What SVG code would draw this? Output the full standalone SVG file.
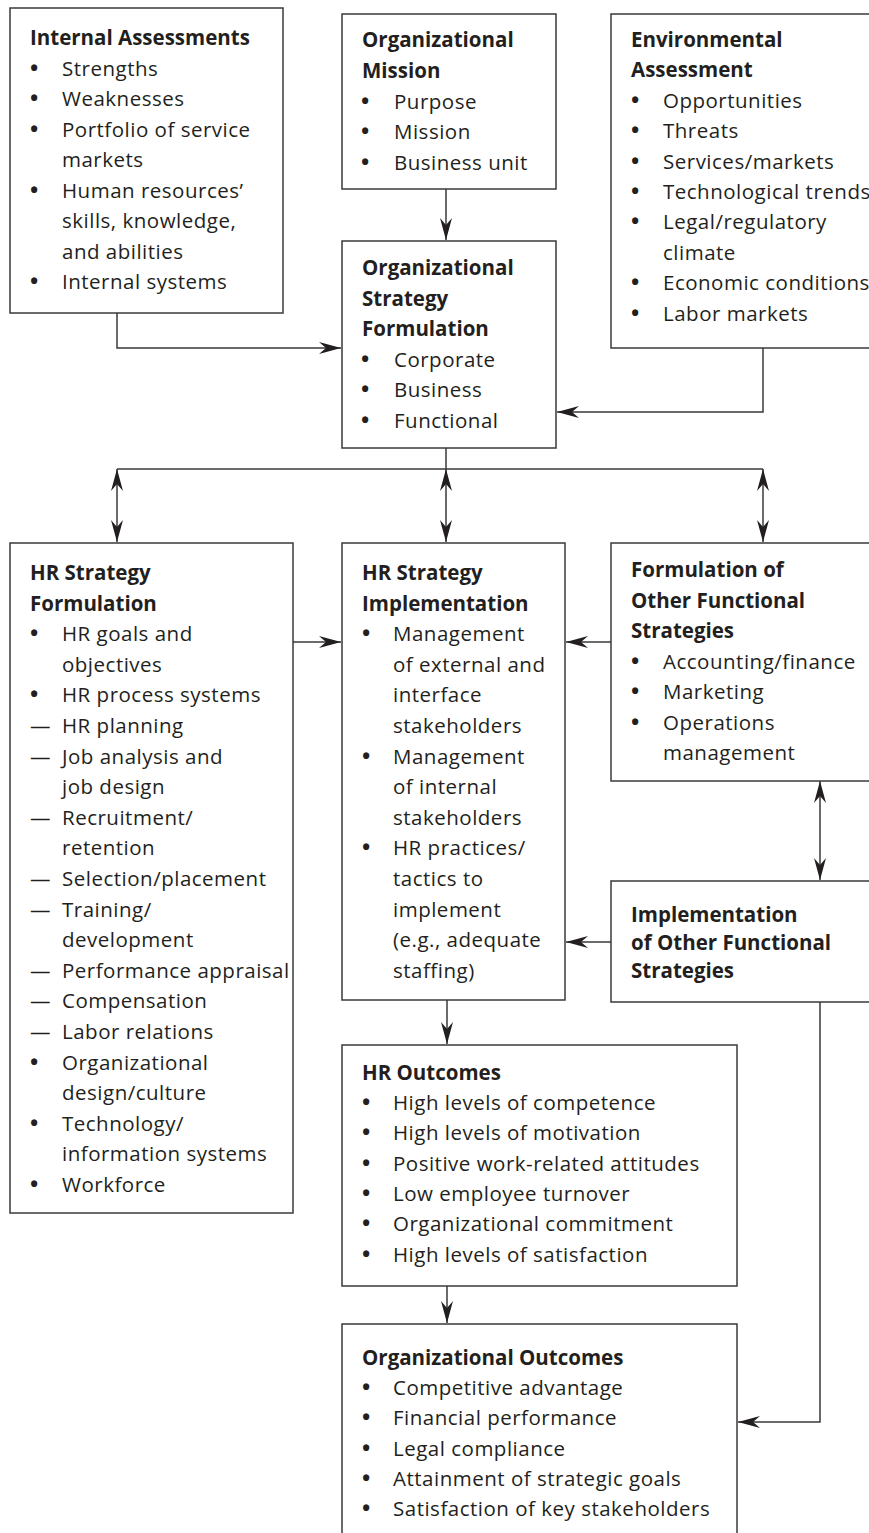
<svg xmlns="http://www.w3.org/2000/svg" width="869" height="1533" viewBox="0 0 869 1533">
  <style>
    .box { fill: #ffffff; stroke: #3a3a3a; stroke-width: 1.5; }
    .t { font-family: "Open Sans", "Noto Sans", "Liberation Sans", sans-serif; font-size: 20.5px; letter-spacing: 0.5px; fill: #231f20; }
    .h { font-weight: bold; letter-spacing: 0; }
    .b { font-family: "Open Sans", "Noto Sans", "Liberation Sans", sans-serif; font-size: 22px; font-weight: bold; fill: #231f20; }
    .wire { fill: none; stroke: #3a3a3a; stroke-width: 1.5; }
    .one { marker-end: url(#head); }
    .two { marker-start: url(#head); marker-end: url(#head); }
  </style>
  <defs>
    <marker id="head" markerUnits="userSpaceOnUse" viewBox="-22 -7 22 14" refX="0" refY="0" markerWidth="22" markerHeight="14" orient="auto-start-reverse">
      <path d="M0,0 L-22,-6 L-15,0 L-22,6 Z" fill="#231f20"/>
    </marker>
  </defs>
  <rect width="869" height="1533" fill="#ffffff"/>

  <!-- connectors -->
  <g id="connectors">
    <path class="wire one" d="M446,189 V240"/>
    <path class="wire one" d="M117,313 V348 H341"/>
    <path class="wire one" d="M763,348 V412 H557"/>
    <path class="wire" d="M446,448 V469"/>
    <path class="wire" d="M117,469 H763"/>
    <path class="wire two" d="M117,469 V542"/>
    <path class="wire two" d="M446,469 V542"/>
    <path class="wire two" d="M763,469 V542"/>
    <path class="wire one" d="M293,642 H341"/>
    <path class="wire one" d="M611,642 H566"/>
    <path class="wire two" d="M820,781 V880"/>
    <path class="wire one" d="M611,942 H566"/>
    <path class="wire one" d="M447,1000 V1044"/>
    <path class="wire one" d="M447,1286 V1323"/>
    <path class="wire one" d="M820,1002 V1422 H738"/>
  </g>

  <!-- Internal Assessments -->
  <g id="internal-assessments">
    <rect class="box" x="10" y="8" width="273" height="305"/>
    <text class="t h" x="30" y="45">Internal Assessments</text>
    <text class="b" x="30" y="75.5">•</text><text class="t" x="62" y="75.5">Strengths</text>
    <text class="b" x="30" y="106">•</text><text class="t" x="62" y="106">Weaknesses</text>
    <text class="b" x="30" y="136.5">•</text><text class="t" x="62" y="136.5">Portfolio of service</text>
    <text class="t" x="62" y="167">markets</text>
    <text class="b" x="30" y="197.5">•</text><text class="t" x="62" y="197.5">Human resources’</text>
    <text class="t" x="62" y="228">skills, knowledge,</text>
    <text class="t" x="62" y="258.5">and abilities</text>
    <text class="b" x="30" y="289">•</text><text class="t" x="62" y="289">Internal systems</text>
  </g>

  <!-- Organizational Mission -->
  <g id="organizational-mission">
    <rect class="box" x="342" y="14" width="214" height="175"/>
    <text class="t h" x="362" y="47">Organizational</text>
    <text class="t h" x="362" y="78">Mission</text>
    <text class="b" x="361" y="108.5">•</text><text class="t" x="394" y="108.5">Purpose</text>
    <text class="b" x="361" y="139">•</text><text class="t" x="394" y="139">Mission</text>
    <text class="b" x="361" y="170">•</text><text class="t" x="394" y="170">Business unit</text>
  </g>

  <!-- Environmental Assessment -->
  <g id="environmental-assessment">
    <rect class="box" x="611" y="14" width="270" height="334"/>
    <text class="t h" x="631" y="47">Environmental</text>
    <text class="t h" x="631" y="77.4">Assessment</text>
    <text class="b" x="631" y="107.8">•</text><text class="t" x="663" y="107.8">Opportunities</text>
    <text class="b" x="631" y="138.2">•</text><text class="t" x="663" y="138.2">Threats</text>
    <text class="b" x="631" y="168.6">•</text><text class="t" x="663" y="168.6">Services/markets</text>
    <text class="b" x="631" y="199">•</text><text class="t" x="663" y="199">Technological trends</text>
    <text class="b" x="631" y="229.4">•</text><text class="t" x="663" y="229.4">Legal/regulatory</text>
    <text class="t" x="663" y="259.8">climate</text>
    <text class="b" x="631" y="290.2">•</text><text class="t" x="663" y="290.2">Economic conditions</text>
    <text class="b" x="631" y="320.6">•</text><text class="t" x="663" y="320.6">Labor markets</text>
  </g>

  <!-- Organizational Strategy Formulation -->
  <g id="organizational-strategy">
    <rect class="box" x="342" y="241" width="214" height="207"/>
    <text class="t h" x="362" y="275">Organizational</text>
    <text class="t h" x="362" y="305.6">Strategy</text>
    <text class="t h" x="362" y="336.2">Formulation</text>
    <text class="b" x="361" y="366.8">•</text><text class="t" x="394" y="366.8">Corporate</text>
    <text class="b" x="361" y="397.4">•</text><text class="t" x="394" y="397.4">Business</text>
    <text class="b" x="361" y="428">•</text><text class="t" x="394" y="428">Functional</text>
  </g>

  <!-- HR Strategy Formulation -->
  <g id="hr-strategy-formulation">
    <rect class="box" x="10" y="543" width="283" height="670"/>
    <text class="t h" x="30" y="580">HR Strategy</text>
    <text class="t h" x="30" y="610.6">Formulation</text>
    <text class="b" x="30" y="641.2">•</text><text class="t" x="62" y="641.2">HR goals and</text>
    <text class="t" x="62" y="671.8">objectives</text>
    <text class="b" x="30" y="702.4">•</text><text class="t" x="62" y="702.4">HR process systems</text>
    <text class="t" x="30" y="733">—</text><text class="t" x="62" y="733">HR planning</text>
    <text class="t" x="30" y="763.6">—</text><text class="t" x="62" y="763.6">Job analysis and</text>
    <text class="t" x="62" y="794.2">job design</text>
    <text class="t" x="30" y="824.8">—</text><text class="t" x="62" y="824.8">Recruitment/</text>
    <text class="t" x="62" y="855.4">retention</text>
    <text class="t" x="30" y="886">—</text><text class="t" x="62" y="886">Selection/placement</text>
    <text class="t" x="30" y="916.6">—</text><text class="t" x="62" y="916.6">Training/</text>
    <text class="t" x="62" y="947.2">development</text>
    <text class="t" x="30" y="977.8">—</text><text class="t" x="62" y="977.8">Performance appraisal</text>
    <text class="t" x="30" y="1008.4">—</text><text class="t" x="62" y="1008.4">Compensation</text>
    <text class="t" x="30" y="1039">—</text><text class="t" x="62" y="1039">Labor relations</text>
    <text class="b" x="30" y="1069.6">•</text><text class="t" x="62" y="1069.6">Organizational</text>
    <text class="t" x="62" y="1100.2">design/culture</text>
    <text class="b" x="30" y="1130.8">•</text><text class="t" x="62" y="1130.8">Technology/</text>
    <text class="t" x="62" y="1161.4">information systems</text>
    <text class="b" x="30" y="1192">•</text><text class="t" x="62" y="1192">Workforce</text>
  </g>

  <!-- HR Strategy Implementation -->
  <g id="hr-strategy-implementation">
    <rect class="box" x="342" y="543" width="223" height="457"/>
    <text class="t h" x="362" y="580">HR Strategy</text>
    <text class="t h" x="362" y="610.6">Implementation</text>
    <text class="b" x="362" y="641.2">•</text><text class="t" x="393" y="641.2">Management</text>
    <text class="t" x="393" y="671.8">of external and</text>
    <text class="t" x="393" y="702.4">interface</text>
    <text class="t" x="393" y="733">stakeholders</text>
    <text class="b" x="362" y="763.6">•</text><text class="t" x="393" y="763.6">Management</text>
    <text class="t" x="393" y="794.2">of internal</text>
    <text class="t" x="393" y="824.8">stakeholders</text>
    <text class="b" x="362" y="855.4">•</text><text class="t" x="393" y="855.4">HR practices/</text>
    <text class="t" x="393" y="886">tactics to</text>
    <text class="t" x="393" y="916.6">implement</text>
    <text class="t" x="393" y="947.2">(e.g., adequate</text>
    <text class="t" x="393" y="977.8">staffing)</text>
  </g>

  <!-- Formulation of Other Functional Strategies -->
  <g id="other-formulation">
    <rect class="box" x="611" y="543" width="270" height="238"/>
    <text class="t h" x="631" y="577">Formulation of</text>
    <text class="t h" x="631" y="607.5">Other Functional</text>
    <text class="t h" x="631" y="638">Strategies</text>
    <text class="b" x="631" y="668.5">•</text><text class="t" x="663" y="668.5">Accounting/finance</text>
    <text class="b" x="631" y="699">•</text><text class="t" x="663" y="699">Marketing</text>
    <text class="b" x="631" y="729.5">•</text><text class="t" x="663" y="729.5">Operations</text>
    <text class="t" x="663" y="760">management</text>
  </g>

  <!-- Implementation of Other Functional Strategies -->
  <g id="other-implementation">
    <rect class="box" x="611" y="881" width="270" height="121"/>
    <text class="t h" x="631" y="922">Implementation</text>
    <text class="t h" x="631" y="950">of Other Functional</text>
    <text class="t h" x="631" y="978">Strategies</text>
  </g>

  <!-- HR Outcomes -->
  <g id="hr-outcomes">
    <rect class="box" x="342" y="1045" width="395" height="241"/>
    <text class="t h" x="362" y="1080">HR Outcomes</text>
    <text class="b" x="362" y="1110">•</text><text class="t" x="393" y="1110">High levels of competence</text>
    <text class="b" x="362" y="1140">•</text><text class="t" x="393" y="1140">High levels of motivation</text>
    <text class="b" x="362" y="1171">•</text><text class="t" x="393" y="1171">Positive work-related attitudes</text>
    <text class="b" x="362" y="1201">•</text><text class="t" x="393" y="1201">Low employee turnover</text>
    <text class="b" x="362" y="1231">•</text><text class="t" x="393" y="1231">Organizational commitment</text>
    <text class="b" x="362" y="1262">•</text><text class="t" x="393" y="1262">High levels of satisfaction</text>
  </g>

  <!-- Organizational Outcomes -->
  <g id="organizational-outcomes">
    <rect class="box" x="342" y="1324" width="395" height="230"/>
    <text class="t h" x="362" y="1365">Organizational Outcomes</text>
    <text class="b" x="362" y="1395">•</text><text class="t" x="393" y="1395">Competitive advantage</text>
    <text class="b" x="362" y="1425">•</text><text class="t" x="393" y="1425">Financial performance</text>
    <text class="b" x="362" y="1456">•</text><text class="t" x="393" y="1456">Legal compliance</text>
    <text class="b" x="362" y="1486">•</text><text class="t" x="393" y="1486">Attainment of strategic goals</text>
    <text class="b" x="362" y="1516">•</text><text class="t" x="393" y="1516">Satisfaction of key stakeholders</text>
  </g>
</svg>
